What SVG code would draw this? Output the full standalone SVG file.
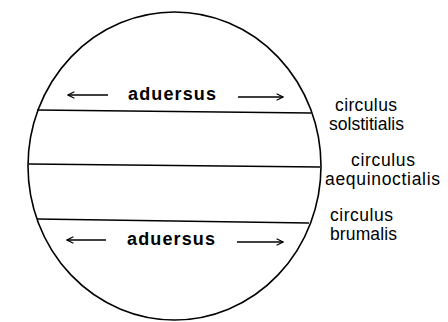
<svg xmlns="http://www.w3.org/2000/svg" width="448" height="322" viewBox="0 0 448 322">
<defs>
<style>
.ln{stroke:#000;stroke-width:1.6;fill:none}
.ar{stroke:#000;stroke-width:1.3;fill:none}
.lbl{font-family:"Liberation Sans",Arial,sans-serif;font-size:17.5px;fill:#000}
.adv{font-family:"Liberation Sans",Arial,sans-serif;font-size:18px;font-weight:bold;fill:#000;letter-spacing:1px}
</style>
<marker id="ah" viewBox="0 0 10 10" refX="9" refY="5" markerWidth="8" markerHeight="8" orient="auto-start-reverse" markerUnits="userSpaceOnUse">
<path d="M1,1 L9,5 L1,9" fill="none" stroke="#000" stroke-width="1.4"/>
</marker>
</defs>
<rect width="448" height="322" fill="#fff"/>
<g id="sphere">
<ellipse class="ln" cx="174.5" cy="166" rx="146.5" ry="154"/>
</g>
<g id="connectors">
<line class="ln" x1="37" y1="110" x2="311" y2="113"/>
<line class="ln" x1="29" y1="164" x2="320" y2="167"/>
<line class="ln" x1="37" y1="219" x2="309" y2="223"/>
<line class="ar" x1="108" y1="95" x2="68" y2="95" marker-end="url(#ah)"/>
<line class="ar" x1="238" y1="97" x2="283" y2="97" marker-end="url(#ah)"/>
<line class="ar" x1="106" y1="240" x2="67" y2="240" marker-end="url(#ah)"/>
<line class="ar" x1="237" y1="242" x2="283" y2="242" marker-end="url(#ah)"/>
</g>
<g id="aduersus-top"><text class="adv" x="128" y="100" textLength="89">aduersus</text></g>
<g id="aduersus-bottom"><text class="adv" x="127" y="245" textLength="89">aduersus</text></g>
<g id="solstitialis">
<text class="lbl" x="335" y="111" textLength="62">circulus</text>
<text class="lbl" x="329" y="130" textLength="75">solstitialis</text>
</g>
<g id="aequinoctialis">
<text class="lbl" x="351" y="166" textLength="64">circulus</text>
<text class="lbl" x="325" y="185" textLength="115">aequinoctialis</text>
</g>
<g id="brumalis">
<text class="lbl" x="330" y="221" textLength="63">circulus</text>
<text class="lbl" x="330" y="240" textLength="67">brumalis</text>
</g>
</svg>
